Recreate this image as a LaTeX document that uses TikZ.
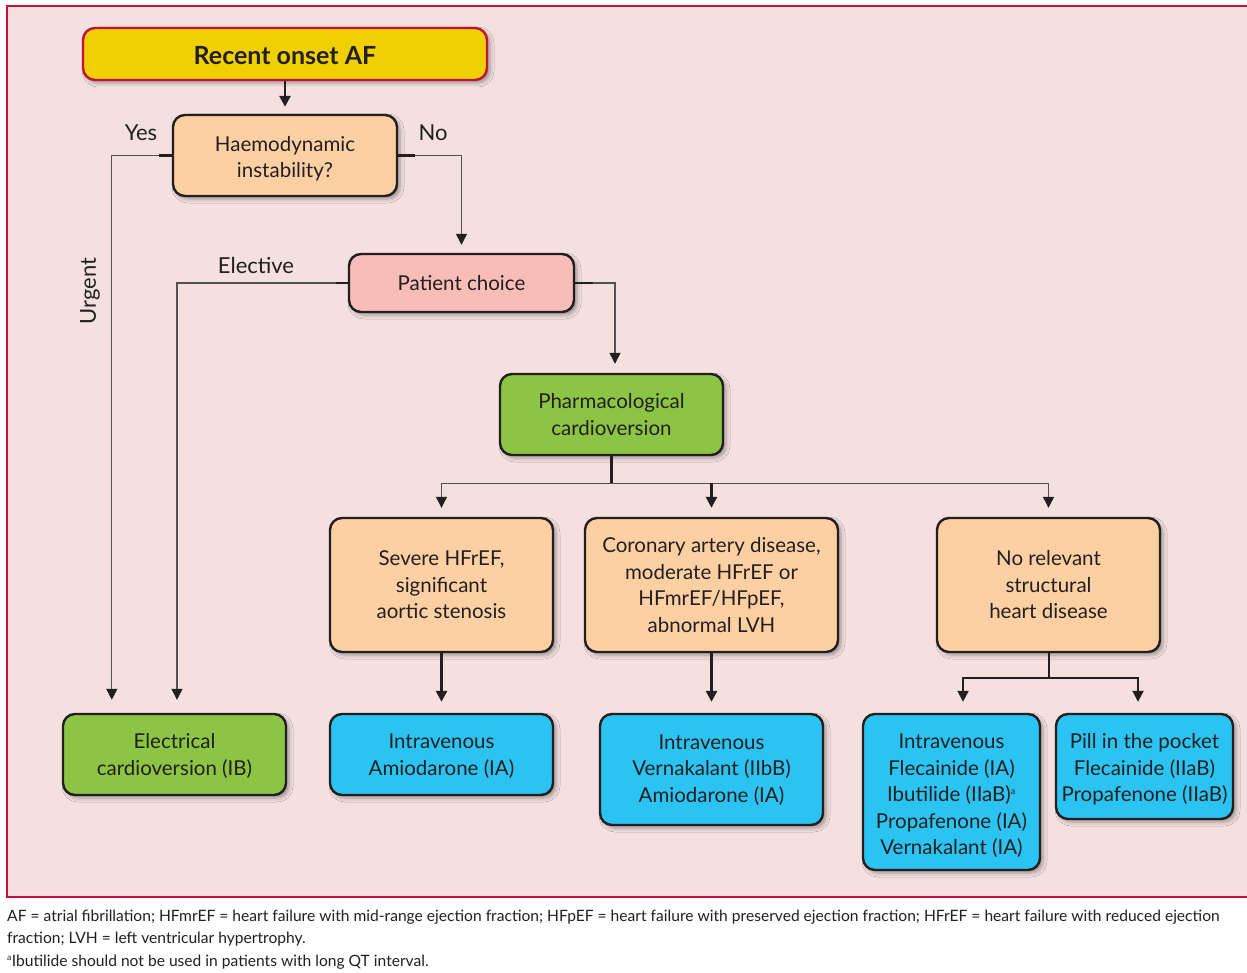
\documentclass[tikz,border=0pt]{standalone}
\usepackage{fontspec}
\setmainfont{Lato}
\usetikzlibrary{arrows.meta,shadows.blur,calc}

\definecolor{panel}{RGB}{243,224,223}
\definecolor{crimson}{RGB}{190,20,60}
\definecolor{afyellow}{RGB}{240,208,0}
\definecolor{peach}{RGB}{253,208,163}
\definecolor{rose}{RGB}{248,189,182}
\definecolor{leaf}{RGB}{139,197,67}
\definecolor{sky}{RGB}{43,196,242}
\definecolor{ink}{RGB}{35,31,32}
\definecolor{wire}{RGB}{85,80,82}

\tikzset{
  box/.style={draw=ink, line width=2.4pt, rounded corners=12pt, inner sep=0pt,
    blur shadow={shadow xshift=3pt, shadow yshift=-3pt, shadow blur radius=4pt, shadow opacity=35}},
  boxtext/.style={align=center, inner sep=0pt, text=ink, font=\fontsize{20.5}{26.5}\selectfont},
  thinwire/.style={draw=wire, line width=1.3pt},
  midwire/.style={draw=ink, line width=2pt},
  thickwire/.style={draw=ink, line width=2.6pt},
  tip/.style={-{Triangle[width=11pt,length=11pt,color=ink]}},
  lbl/.style={text=ink, font=\fontsize{22}{24}\selectfont},
  note/.style={anchor=base west, inner sep=0pt, text=ink, font=\fontsize{15.6}{17}\selectfont},
}

\begin{document}
\begin{tikzpicture}[x=1pt,y=-1pt]
\useasboundingbox (0,0) rectangle (1247,973);

% framed panel
\fill[white] (0,0) rectangle (1247,973);
\draw[fill=panel, draw=crimson, line width=1.3pt] (7,6) rectangle (1252,897);

% decision nodes
\node[box, draw=crimson, fill=afyellow, minimum width=404pt, minimum height=52pt,
      label={[boxtext, font=\fontsize{25}{28}\selectfont\bfseries, yshift=-1.5pt]center:Recent onset AF}] (af) at (285,54) {};
\node[box, fill=peach, minimum width=224pt, minimum height=81pt,
      label={[boxtext, yshift=-3pt]center:{Haemodynamic\\instability?}}] (haemo) at (285,155.5) {};
\node[box, fill=rose, minimum width=225pt, minimum height=58pt,
      label={[boxtext]center:Patient choice}] (choice) at (461.5,283) {};
\node[box, fill=leaf, minimum width=223pt, minimum height=81pt,
      label={[boxtext]center:{Pharmacological\\cardioversion}}] (pharm) at (611.5,414.5) {};

\node[box, fill=peach, minimum width=223pt, minimum height=134pt,
      label={[boxtext]center:{Severe HFrEF,\\significant\\aortic stenosis}}] (severe) at (441.5,585) {};
\node[box, fill=peach, minimum width=253pt, minimum height=134pt,
      label={[boxtext]center:{Coronary artery disease,\\moderate HFrEF or\\HFmrEF/HFpEF,\\abnormal LVH}}] (cad) at (711.5,585) {};
\node[box, fill=peach, minimum width=223pt, minimum height=134pt,
      label={[boxtext]center:{No relevant\\structural\\heart disease}}] (norel) at (1048.5,585) {};

% treatment nodes
\node[box, fill=leaf, minimum width=223pt, minimum height=81pt,
      label={[boxtext, yshift=-1.5pt]center:{Electrical\\cardioversion (IB)}}] (elec) at (174.5,754.5) {};
\node[box, fill=sky, minimum width=223pt, minimum height=81pt,
      label={[boxtext, yshift=-1.5pt]center:{Intravenous\\Amiodarone (IA)}}] (amio) at (441.5,754.5) {};
\node[box, fill=sky, minimum width=223pt, minimum height=111pt,
      label={[boxtext, yshift=-0.5pt]center:{Intravenous\\Vernakalant (IIbB)\\Amiodarone (IA)}}] (verna) at (711.5,769.5) {};
\node[box, fill=sky, minimum width=177pt, minimum height=156pt,
      label={[boxtext, yshift=-4pt]center:{Intravenous\\Flecainide (IA)\\Ibutilide (IIaB)\textsuperscript{\fontsize{9}{9}\selectfont a}\\Propafenone (IA)\\Vernakalant (IA)}}] (fleca) at (951.5,792) {};
\node[box, fill=sky, minimum width=177pt, minimum height=105pt,
      label={[boxtext, yshift=-3pt]center:{Pill in the pocket\\Flecainide (IIaB)\\Propafenone (IIaB)}}] (pill) at (1144.5,766.5) {};

% branch labels
\node[lbl] (yes) at (141,133) {Yes};
\node[lbl] (no) at (433,133) {No};
\node[lbl] (elective) at (256,265) {Elective};
\node[lbl, rotate=90] (urgent) at (90,291) {Urgent};

% connectors
\draw[thickwire, tip, shorten >=7pt] (af.south) -- (haemo.north);

\draw[thinwire, tip, shorten >=13pt] (haemo.west) -| ($(elec.north west)+(50,0)$);
\draw[thickwire] (haemo.west) -- ++(-13,0);

\draw[thinwire, tip, shorten >=8pt] (haemo.east) -| (choice.north);
\draw[thickwire] (haemo.east) -- ++(17,0);

\draw[thinwire, tip, shorten >=13pt] (choice.west) -| ($(elec.north)+(2.5,0)$);
\draw[thickwire] (choice.west) -- ++(-12,0);

\draw[thinwire, tip, shorten >=9pt] (choice.east) -| ($(pharm.north)+(3.5,0)$);
\draw[thickwire] (choice.east) -- ++(18,0);

\coordinate (bus) at ($(pharm.south)+(0,27)$);
\draw[thickwire] (pharm.south) -- (bus);
\draw[thinwire, tip, shorten >=9pt] (bus) -| (severe.north);
\draw[thinwire, tip, shorten >=9pt] (bus) -| (norel.north);
\draw[thickwire, tip, shorten >=9pt] (bus -| cad.north) -- (cad.north);

\draw[thickwire, tip, shorten >=11pt] (severe.south) -- (amio.north);
\draw[thickwire, tip, shorten >=11pt] (cad.south) -- (verna.north);

\coordinate (split) at ($(norel.south)+(0,25)$);
\draw[midwire] (norel.south) -- (split);
\draw[midwire, tip, shorten >=11pt] (split) -| ($(fleca.north)+(11.5,0)$);
\draw[midwire, tip, shorten >=11pt] (split) -| ($(pill.north)+(-6.5,0)$);

% abbreviations
\node[note] (n1) at (7,921) {AF = atrial fibrillation; HFmrEF = heart failure with mid-range ejection fraction; HFpEF = heart failure with preserved ejection fraction; HFrEF = heart failure with reduced ejection};
\node[note] (n2) at (7,943.5) {fraction; LVH = left ventricular hypertrophy.};
\node[note] (n3) at (7,966) {\textsuperscript{\fontsize{8.5}{8.5}\selectfont a}Ibutilide should not be used in patients with long QT interval.};
\end{tikzpicture}
\end{document}
